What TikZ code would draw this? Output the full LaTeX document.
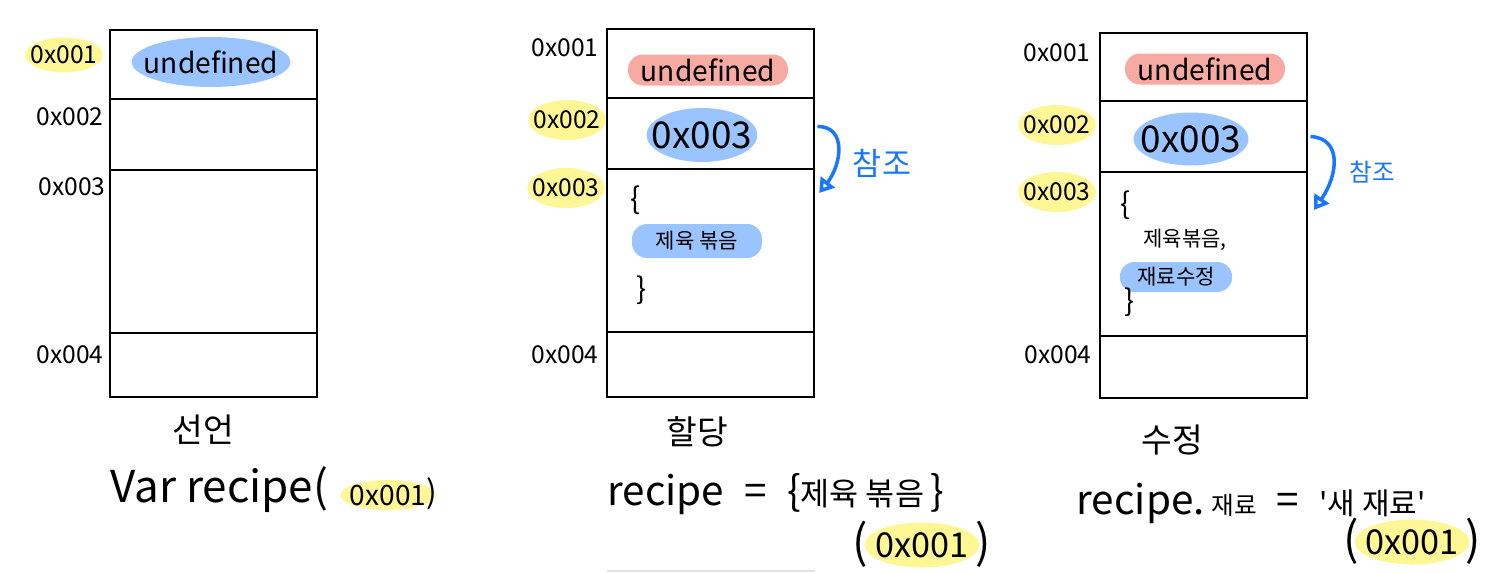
\documentclass[tikz,border=0pt]{standalone}
\usepackage{fontspec}
\setmainfont{Noto Sans CJK KR}
\usepackage{tikz}
\usetikzlibrary{
  arrows.meta,
  shapes.geometric,
  positioning
}
\usepackage{xcolor}
\definecolor{hblue}{RGB}{153,196,255}
\definecolor{hred}{RGB}{246,170,162}
\definecolor{hyellow}{RGB}{255,246,150}
\definecolor{cblue}{RGB}{24,118,255}
\definecolor{lgray}{RGB}{225,225,225}
\tikzset{
  cell/.style={
    rectangle, draw=black, line width=1.1pt,
    minimum width=4.14cm, inner sep=0pt, outer sep=0pt
  },
  addr/.style={
    font=\fontsize{14}{14}\selectfont, inner sep=1pt
  },
  addrH/.style={
    addr, ellipse, fill=hyellow, inner xsep=-0.12cm, inner ysep=0pt,
    minimum width=1.5cm, minimum height=0.8cm
  },
  blobB/.style={
    ellipse, fill=hblue, inner xsep=-0.22cm, inner ysep=0pt
  },
  hlR/.style={
    rectangle, rounded corners=0.3cm, fill=hred, inner sep=0pt
  },
  hlB/.style={
    rectangle, rounded corners=0.3cm, fill=hblue, inner sep=0pt
  },
  brace/.style={font=\fontsize{17}{17}\selectfont},
  small/.style={font=\fontsize{12}{12}\selectfont},
  title/.style={font=\fontsize{19}{19}\selectfont},
  code/.style={font=\fontsize{23}{23}\selectfont, inner sep=0pt},
  paren/.style={font=\fontsize{26}{26}\selectfont, inner sep=0pt},
  ref/.style={-{Triangle[open,length=8pt,width=10pt]}, line width=2pt, color=cblue},
  reflabel/.style={text=cblue, font=\fontsize{18}{18}\selectfont}
}

\begin{document}
\begin{tikzpicture}[x=0.02cm, y=-0.02cm, node distance=0pt]
    \useasboundingbox (0,0) rectangle (1507,572);

    %% ---- 선언 --------------------------------------------------------
    \node[cell, minimum height=1.38cm, anchor=north west] (a1) at (110,30) {};
    \node[cell, minimum height=1.42cm, below=of a1] (a2) {};
    \node[cell, minimum height=3.26cm, below=of a2] (a3) {};
    \node[cell, minimum height=1.28cm, below=of a3] (a4) {};

    \node[addrH, minimum width=1.44cm, minimum height=0.7cm] (a1l) at (64,55) {0x001};
    \node[addr]  (a2l) at (70,117) {0x002};
    \node[addr]  (a3l) at (72,187) {0x003};
    \node[addr]  (a4l) at (70,355) {0x004};

    \node[blobB, minimum width=2.9cm, minimum height=1.0cm,
          font=\fontsize{16}{16}\selectfont] (a1v) at (211,62) {undefined};

    \node[title] (t1) at (203,430) {선언};
    \node[code, anchor=west, font=\fontsize{25}{25}\selectfont] (s1) at (110,490) {Var recipe(};
    \node[addrH, minimum width=1.9cm, minimum height=0.6cm,
          font=\fontsize{16}{16}\selectfont] (s1a) at (388,495) {0x001};
    \node[code, font=\fontsize{18}{18}\selectfont] (s1b) at (432,494) {)};

    %% ---- 할당 --------------------------------------------------------
    \node[cell, minimum height=1.38cm, anchor=north west] (b1) at (607,29) {};
    \node[cell, minimum height=1.42cm, below=of b1] (b2) {};
    \node[cell, minimum height=3.26cm, below=of b2] (b3) {};
    \node[cell, minimum height=1.30cm, below=of b3] (b4) {};

    \node[addr]  (b1l) at (565,48) {0x001};
    \node[addrH] (b2l) at (567,120) {0x002};
    \node[addrH] (b3l) at (566,188) {0x003};
    \node[addr]  (b4l) at (565,355) {0x004};

    \node[hlR, minimum width=3.2cm, minimum height=0.62cm,
          font=\fontsize{16}{16}\selectfont] (b1v) at (708,70) {undefined};
    \node[blobB, minimum width=2.16cm, minimum height=1.08cm,
          font=\fontsize{21}{21}\selectfont] (b2v) at (702,135) {0x003};
    \node[brace] (b3o) at (636,200) {\{};
    \node[hlB, minimum width=2.6cm, minimum height=0.68cm,
          small] (b3v) at (697,241) {제육 볶음};
    \node[brace] (b3c) at (642,290) {\}};

    \draw[ref] ([xshift=2pt,yshift=4pt]b2.east)
      .. controls +(30,0) and +(22,-28) .. ([xshift=3pt,yshift=-0.48cm]b3.north east);
    \node[reflabel] (r2) at (882,163) {참조};

    \node[title] (t2) at (697,432) {할당};
    \node[code] (s2) at (776,494)
      {recipe\enspace=\enspace\{{\fontsize{18}{18}\selectfont 제육 볶음}\,\}};
    \node[addrH, minimum width=2.0cm, minimum height=0.9cm,
          font=\fontsize{19.5}{19.5}\selectfont] (s2a) at (922,545) {0x001};
    \node[paren] (s2o) at (860,544) {(};
    \node[paren] (s2c) at (983,544) {)};

    \draw[lgray, line width=0.6pt] (607,571) -- (815,571);

    %% ---- 수정 --------------------------------------------------------
    \node[cell, minimum height=1.36cm, anchor=north west] (c1) at (1100,33) {};
    \node[cell, minimum height=1.42cm, below=of c1] (c2) {};
    \node[cell, minimum height=3.28cm, below=of c2] (c3) {};
    \node[cell, minimum height=1.24cm, below=of c3] (c4) {};

    \node[addr]  (c1l) at (1057,53) {0x001};
    \node[addrH] (c2l) at (1057,125) {0x002};
    \node[addrH] (c3l) at (1057,192) {0x003};
    \node[addr]  (c4l) at (1058,355) {0x004};

    \node[hlR, minimum width=3.2cm, minimum height=0.62cm,
          font=\fontsize{16}{16}\selectfont] (c1v) at (1205,69) {undefined};
    \node[blobB, minimum width=2.3cm, minimum height=1.06cm,
          font=\fontsize{21}{21}\selectfont] (c2v) at (1191,139) {0x003};
    \node[brace] (c3o) at (1126,205) {\{};
    \node[small] (c3a) at (1185,240) {제육볶음,};
    \node[hlB, minimum width=2.25cm, minimum height=0.6cm,
          small] (c3v) at (1176,277) {재료수정};
    \node[brace] (c3c) at (1130,302) {\}};

    \draw[ref] ([xshift=2pt]c2.east)
      .. controls +(32,2) and +(24,-35) .. ([xshift=4pt,yshift=-0.76cm]c3.north east);
    \node[reflabel, font=\fontsize{14}{14}\selectfont] (r3) at (1372,172) {참조};

    \node[title] (t3) at (1172,440) {수정};
    \node[code] (s3) at (1251,503)
      {recipe.\,{\fontsize{14}{14}\selectfont 재료}\enspace=\enspace{\fontsize{17}{17}\selectfont\textquotesingle 새 재료\textquotesingle}};
    \node[addrH, minimum width=2.0cm, minimum height=0.9cm,
          font=\fontsize{19.5}{19.5}\selectfont] (s3a) at (1412,542) {0x001};
    \node[paren] (s3o) at (1351,541) {(};
    \node[paren] (s3c) at (1473,541) {)};

\end{tikzpicture}
\end{document}
